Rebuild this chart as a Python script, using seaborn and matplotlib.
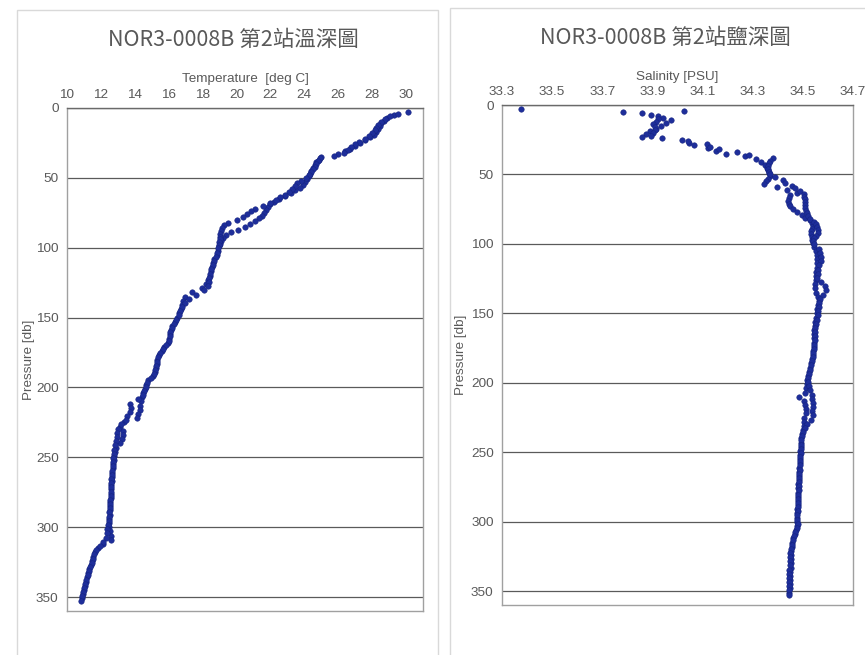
import matplotlib
matplotlib.use("Agg")
import matplotlib.pyplot as plt
import seaborn as sns
import pandas as pd
from matplotlib.patches import Rectangle

# ---------------- data ----------------
TITLE_T = "NOR3-0008B 第2站溫深圖"
TITLE_S = "NOR3-0008B 第2站鹽深圖"
XLABEL_T = "Temperature  [deg C]"
XLABEL_S = "Salinity [PSU]"
YLABEL = "Pressure [db]"

TEMP_TICKS = [10, 12, 14, 16, 18, 20, 22, 24, 26, 28, 30]
SAL_TICKS = [33.3, 33.5, 33.7, 33.9, 34.1, 34.3, 34.5, 34.7]
P_TICKS = [0, 50, 100, 150, 200, 250, 300, 350]

# cast 1 pressures
P1 = [3, 5, 7, 9, 11, 13, 15, 17, 19, 21, 23, 25, 27, 29, 31, 33, 35, 37, 39, 41,
      43, 45, 47, 49, 51, 53, 55, 57, 59, 61, 63, 65, 67, 69, 71, 73, 75, 77, 79, 81,
      83, 85, 87, 89, 91, 93, 95, 97, 99,
      102, 105, 108, 111, 114, 117, 120, 123, 126, 129, 132, 135, 138, 141, 144, 147,
      150, 153, 156, 159, 162, 165, 168, 171, 174, 177, 180, 183, 186, 189, 192, 195,
      198, 201, 204, 207, 210, 213, 216, 219, 222, 225, 228, 231, 234, 237, 240, 243,
      246, 249, 252, 255, 258, 261, 264, 267, 270, 273, 276, 279, 282, 285, 288, 291,
      294, 297, 300, 303, 306, 309, 312, 315, 318, 321, 324, 327, 330, 333, 336, 339,
      342, 345, 348, 351]
# cast 2 pressures
P2 = [4, 6, 8, 10, 12, 14, 16, 18, 20, 22, 24, 26, 28, 30, 32, 34, 36, 38, 40, 42,
      44, 46, 48, 50, 52, 54, 56, 58, 60, 62, 64, 66, 68, 70, 72, 74, 76, 78, 80, 82,
      84, 86, 88, 90, 92, 94, 96, 98, 100,
      103.5, 106.5, 109.5, 112.5, 115.5, 118.5, 121.5, 124.5, 127.5, 130.5, 133.5,
      136.5, 139.5, 142.5, 145.5, 148.5, 151.5, 154.5, 157.5, 160.5, 163.5, 166.5,
      169.5, 172.5, 175.5, 178.5, 181.5, 184.5, 187.5, 190.5, 193.5, 196.5, 199.5,
      202.5, 205.5, 208.5, 211.5, 214.5, 217.5, 220.5, 223.5, 226.5, 229.5, 232.5,
      235.5, 238.5, 241.5, 244.5, 247.5, 250.5, 253.5, 256.5, 259.5, 262.5, 265.5,
      268.5, 271.5, 274.5, 277.5, 280.5, 283.5, 286.5, 289.5, 292.5, 295.5, 298.5,
      301.5, 304.5, 307.5, 310.5, 313.5, 316.5, 319.5, 322.5, 325.5, 328.5, 331.5,
      334.5, 337.5, 340.5, 343.5, 346.5, 349.5, 352.5]

T1 = [30.1, 29.3, 28.9, 28.7, 28.55, 28.45, 28.35, 28.25, 28.1, 27.9, 27.6, 27.3, 27.0,
      26.7, 26.4, 26.0, 25.0, 24.85, 24.7, 24.6, 24.5, 24.4, 24.35, 24.25, 24.15, 24.05,
      23.95, 23.75, 23.45, 23.2, 22.85, 22.5, 22.2, 22.0, 21.85, 21.75, 21.65, 21.5,
      21.35, 21.1, 20.8, 20.5, 20.1, 19.7, 19.35, 19.2, 19.1, 19.0, 18.95,
      18.9, 18.85, 18.7, 18.62, 18.55, 18.47, 18.42, 18.32, 18.2, 17.95, 17.4, 16.95,
      16.85, 16.8, 16.72, 16.62, 16.5, 16.35, 16.2, 16.12, 16.08, 16.03, 15.95, 15.75,
      15.58, 15.4, 15.32, 15.28, 15.24, 15.18, 15.05, 14.8, 14.68, 14.6, 14.5, 14.43,
      14.38, 14.33, 14.3, 14.2, 14.1, 13.35, 13.15, 13.3, 13.3, 13.25, 13.1, 12.9,
      12.82, 12.78, 12.75, 12.72, 12.7, 12.68, 12.65, 12.64, 12.62, 12.6, 12.58, 12.57,
      12.56, 12.55, 12.54, 12.53, 12.5, 12.46, 12.45, 12.52, 12.6, 12.58, 12.1, 11.82,
      11.65, 11.55, 11.48, 11.4, 11.32, 11.25, 11.2, 11.12, 11.06, 11.0, 10.93, 10.86]
T2 = [29.5, 29.05, 28.75, 28.5, 28.35, 28.25, 28.15, 28.0, 27.8, 27.55, 27.25, 27.0,
      26.75, 26.55, 26.35, 25.75, 24.95, 24.8, 24.7, 24.6, 24.5, 24.4, 24.3, 24.1, 23.8,
      23.55, 23.45, 23.3, 23.1, 22.85, 22.55, 22.3, 22.0, 21.55, 21.1, 20.85, 20.6,
      20.4, 20.0, 19.5, 19.25, 19.15, 19.1, 19.05, 19.02, 19.0, 18.98, 18.95, 18.92,
      18.85, 18.8, 18.68, 18.6, 18.52, 18.45, 18.4, 18.35, 18.32, 18.1,
      17.6, 17.2, 16.95, 16.78, 16.68, 16.58, 16.45, 16.3, 16.18, 16.1,
      16.06, 16.0, 15.85, 15.68, 15.5, 15.38, 15.3, 15.26, 15.2, 15.12,
      14.95, 14.72, 14.64, 14.55, 14.47, 14.2, 13.72, 13.8, 13.7, 13.55,
      13.5, 13.2, 12.98, 12.93, 12.92, 12.9, 12.85, 12.8, 12.77, 12.74,
      12.72, 12.69, 12.66, 12.64, 12.62, 12.6, 12.6, 12.58, 12.57, 12.55,
      12.54, 12.52, 12.5, 12.47, 12.45, 12.42, 12.36, 12.34, 12.3, 12.15,
      11.95, 11.72, 11.6, 11.52, 11.45, 11.36, 11.28, 11.22, 11.15, 11.09,
      11.03, 10.96, 10.9, 10.82]

S1 = [33.374, 33.781, 33.896, 33.943, 33.976, 33.956, 33.936, 33.916, 33.890, 33.876,
      33.857, 34.016, 34.046, 34.066, 34.122, 34.155, 34.192, 34.268, 34.312, 34.335,
      34.350, 34.356, 34.360, 34.366, 34.370, 34.362, 34.352, 34.344, 34.397, 34.437,
      34.478, 34.447, 34.443, 34.441, 34.444, 34.447, 34.461, 34.478, 34.495, 34.510,
      34.527, 34.536, 34.540, 34.537, 34.534, 34.534, 34.536, 34.538, 34.540,
      34.545, 34.552, 34.556, 34.558, 34.556, 34.555, 34.553, 34.552, 34.552, 34.548,
      34.547, 34.553, 34.560, 34.565, 34.562, 34.558, 34.556, 34.552, 34.550, 34.548,
      34.546, 34.546, 34.545, 34.545, 34.543, 34.541, 34.539, 34.536, 34.533, 34.528,
      34.525, 34.521, 34.518, 34.515, 34.512, 34.508, 34.484, 34.505, 34.510, 34.512,
      34.514, 34.503, 34.505, 34.506, 34.500, 34.497, 34.494, 34.492, 34.491, 34.490,
      34.489, 34.488, 34.487, 34.486, 34.485, 34.484, 34.483, 34.482, 34.482, 34.481,
      34.481, 34.480, 34.479, 34.478, 34.476, 34.476, 34.477, 34.477, 34.473, 34.468,
      34.462, 34.458, 34.455, 34.454, 34.453, 34.453, 34.452, 34.451, 34.450, 34.449,
      34.448, 34.447, 34.447, 34.446]
S2 = [34.026, 33.860, 33.923, 33.923, 33.916, 33.903, 33.910, 33.910, 33.903, 33.896,
      33.939, 34.042, 34.118, 34.131, 34.166, 34.237, 34.285, 34.381, 34.370, 34.365,
      34.362, 34.361, 34.366, 34.368, 34.388, 34.421, 34.428, 34.458, 34.467, 34.490,
      34.503, 34.505, 34.507, 34.508, 34.509, 34.510, 34.513, 34.517, 34.520, 34.530,
      34.545, 34.554, 34.556, 34.560, 34.560, 34.552, 34.546, 34.542, 34.545,
      34.565, 34.570, 34.574, 34.572, 34.565, 34.562, 34.560, 34.558, 34.572, 34.587,
      34.594, 34.582, 34.568, 34.566, 34.564, 34.562, 34.559, 34.556, 34.552, 34.550,
      34.548, 34.548, 34.547, 34.546, 34.545, 34.542, 34.540, 34.536, 34.532, 34.527,
      34.524, 34.520, 34.520, 34.525, 34.530, 34.535, 34.535, 34.540, 34.542, 34.538,
      34.540, 34.534, 34.515, 34.508, 34.502, 34.497, 34.494, 34.493, 34.492, 34.491,
      34.490, 34.489, 34.488, 34.487, 34.486, 34.485, 34.484, 34.484, 34.483, 34.482,
      34.482, 34.481, 34.480, 34.479, 34.478, 34.478, 34.479, 34.476, 34.470, 34.466,
      34.460, 34.455, 34.452, 34.450, 34.449, 34.448, 34.447, 34.446, 34.445, 34.445,
      34.444, 34.444, 34.443, 34.443]

assert len(P1) == len(T1) == len(S1), (len(P1), len(T1), len(S1))
assert len(P2) == len(T2) == len(S2), (len(P2), len(T2), len(S2))

df = pd.DataFrame({
    "pressure": P1 + P2,
    "temperature": T1 + T2,
    "salinity": S1 + S2,
})

# ---------------- style ----------------
sns.set_theme(style="white")
plt.rcParams['font.family'] = ['Liberation Sans', 'Noto Sans CJK TC', 'DejaVu Sans']

TXT = "#595959"
MARK = "#1E2E9A"
MARK_EDGE = "#12207A"
FS = 9.7

fig = plt.figure(figsize=(8.65, 6.55), dpi=100)
W, H = 865.0, 655.0

def fx(px):
    return px / W

def fy(py):
    return 1 - py / H

# chart area frames
fig.add_artist(Rectangle((fx(17), fy(670)), fx(438 - 17), (670 - 10) / H,
                         transform=fig.transFigure, fill=False,
                         edgecolor="#d9d9d9", lw=1.0))
fig.add_artist(Rectangle((fx(450), fy(670)), fx(880 - 450), (670 - 8) / H,
                         transform=fig.transFigure, fill=False,
                         edgecolor="#d9d9d9", lw=1.0))

ax1 = fig.add_axes([fx(67), fy(611), fx(423 - 67), (611 - 108) / H])
ax2 = fig.add_axes([fx(502), fy(605), fx(853 - 502), (605 - 105) / H])

for ax, col, xl, ticks, title, tx, ty in [
    (ax1, "temperature", XLABEL_T, TEMP_TICKS, TITLE_T, 233, 40),
    (ax2, "salinity", XLABEL_S, SAL_TICKS, TITLE_S, 665, 38),
]:
    sns.scatterplot(data=df, x=col, y="pressure", ax=ax, color=MARK, s=16,
                    edgecolor=MARK_EDGE, linewidth=0.3, legend=False, zorder=3)
    ax.set_ylim(360, 0)
    ax.set_yticks(P_TICKS)
    ax.set_xticks(ticks)
    ax.xaxis.tick_top()
    ax.xaxis.set_label_position("top")
    ax.tick_params(axis="both", length=0, colors=TXT, labelsize=FS)
    ax.tick_params(axis="x", pad=5)
    ax.tick_params(axis="y", pad=6)
    ax.set_xlabel(xl, color=TXT, fontsize=FS)
    ax.set_ylabel(YLABEL, color=TXT, fontsize=FS)
    ax.grid(axis="y", color="#5a5a5a", lw=0.9)
    ax.grid(axis="x", visible=False)
    ax.set_axisbelow(True)
    for side in ["left", "bottom", "right"]:
        ax.spines[side].set_color("#a0a0a0")
        ax.spines[side].set_linewidth(1.0)
    ax.spines["top"].set_color("#6a6a6a")
    ax.spines["top"].set_linewidth(1.0)
    fig.text(fx(tx), fy(ty), title, ha="center", va="center", color=TXT,
             fontsize=15.5, family=["Noto Sans CJK TC", "DejaVu Sans"])

ax1.set_xlim(10, 31)
ax2.set_xlim(33.3, 34.7)
ax2.set_xticklabels([f"{v:.1f}" for v in SAL_TICKS])

ax1.xaxis.set_label_coords(0.5, 1 + (108 - 82) / 503)
ax2.xaxis.set_label_coords(0.5, 1 + (105 - 80) / 500)
ax1.yaxis.set_label_coords((35 - 67) / 356, 0.5)
ax2.yaxis.set_label_coords((467 - 502) / 351, 0.5)

fig.savefig("out.png", dpi=100, facecolor="white")
